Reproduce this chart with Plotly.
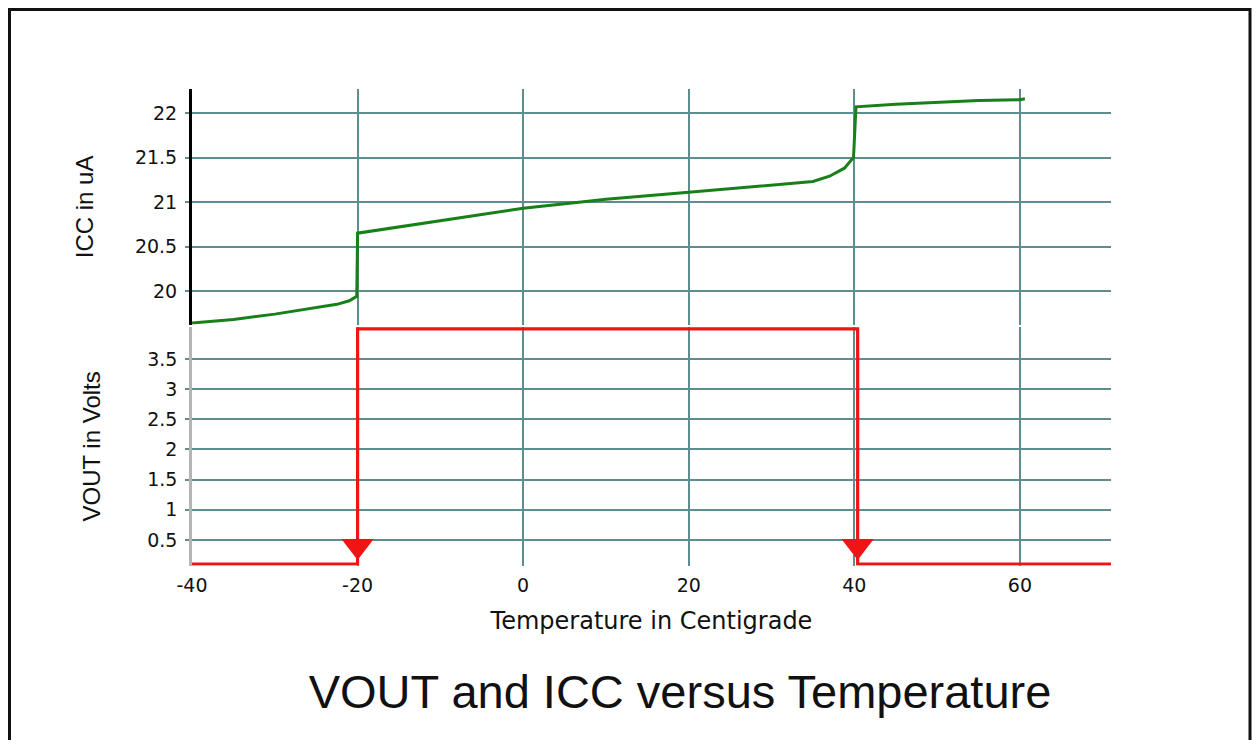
import plotly.graph_objects as go

# ---- data ----
temp_icc = [-40, -35, -30, -25, -22.5, -21, -20.1, -20, -15, -10, -5, 0, 7, 10, 20,
            30, 33, 35, 37, 38.8, 39.9, 40.2, 45, 50, 55, 60, 60.6]
icc_ua = [19.64, 19.68, 19.74, 19.81, 19.85, 19.89, 19.94, 20.65, 20.72, 20.79, 20.86,
          20.93, 21.0, 21.03, 21.11, 21.19, 21.21, 21.23, 21.29, 21.38, 21.50, 22.07,
          22.10, 22.12, 22.14, 22.15, 22.16]

temp_vout = [-40, -20, -20, 40.4, 40.4, 71]
vout_v = [0.1, 0.1, 4.0, 4.0, 0.1, 0.1]

arrow_temp = [-20, 40.4]
arrow_vout = [0.40, 0.40]

x_ticks = [-40, -20, 0, 20, 40, 60]
x_tick_text = ["-40", "-20", "0", "20", "40", "60"]
icc_ticks = [20, 20.5, 21, 21.5, 22]
icc_tick_text = ["20", "20.5", "21", "21.5", "22"]
vout_ticks = [0.5, 1, 1.5, 2, 2.5, 3, 3.5]
vout_tick_text = ["0.5", "1", "1.5", "2", "2.5", "3", "3.5"]

# ---- styles / geometry (page has an 8px body margin on every side) ----
OFF = 8
W, H = 1260 - 2 * OFF, 748 - 2 * OFF


def px(x):
    return (x - OFF) / W


def py(y):
    return 1 - (y - OFF) / H


GRID = "#5f8d8f"
TICKFONT = dict(family="DejaVu Sans", size=19, color="#111111")

fig = go.Figure()
fig.add_trace(go.Scatter(x=temp_icc, y=icc_ua, mode="lines", xaxis="x", yaxis="y",
                         line=dict(color="#188018", width=3), showlegend=False))
fig.add_trace(go.Scatter(x=temp_vout, y=vout_v, mode="lines", xaxis="x2", yaxis="y2",
                         line=dict(color="#f01414", width=3.2), showlegend=False))
fig.add_trace(go.Scatter(x=arrow_temp, y=arrow_vout, mode="markers", xaxis="x2", yaxis="y2",
                         marker=dict(symbol="triangle-down", size=28, color="#f01414",
                                     line=dict(width=0)),
                         cliponaxis=False, showlegend=False))

xdom = [px(192), px(1111)]
top_dom = [py(324.8), py(89)]
bot_dom = [py(565.8), py(327)]

common_x = dict(range=[-40, 71], domain=xdom, tickvals=x_ticks, ticktext=x_tick_text,
                showgrid=True, gridcolor=GRID, gridwidth=2, zeroline=False,
                showline=False, tickfont=TICKFONT, automargin=False)

fig.update_layout(
    width=W, height=H,
    margin=dict(l=0, r=0, t=0, b=0, autoexpand=False),
    paper_bgcolor="white", plot_bgcolor="white",
    xaxis=dict(common_x, anchor="y", showticklabels=False, ticks=""),
    xaxis2=dict(common_x, anchor="y2", showticklabels=True, ticks="",
                ticklabelstandoff=6,
                title=dict(text="Temperature in Centigrade", standoff=17,
                           font=dict(family="DejaVu Sans", size=24, color="#111111"))),
    yaxis=dict(domain=top_dom, range=[19.62, 22.27], anchor="x", automargin=False,
               tickvals=icc_ticks, ticktext=icc_tick_text,
               showgrid=True, gridcolor=GRID, gridwidth=2, zeroline=False,
               showline=True, linecolor="black", linewidth=3,
               ticks="outside", ticklen=4, tickcolor=GRID, tickwidth=2,
               ticklabelstandoff=4, tickfont=TICKFONT,
               title=dict(text="ICC in uA", standoff=35,
                          font=dict(family="Liberation Sans", size=24, color="#111111"))),
    yaxis2=dict(domain=bot_dom, range=[0.07, 4.03], anchor="x2", automargin=False,
                tickvals=vout_ticks, ticktext=vout_tick_text,
                showgrid=True, gridcolor=GRID, gridwidth=2, zeroline=False,
                showline=True, linecolor="#b4b4b4", linewidth=2.5,
                ticks="outside", ticklen=4, tickcolor=GRID, tickwidth=2,
                ticklabelstandoff=4, tickfont=TICKFONT,
                title=dict(text="VOUT in Volts", standoff=40,
                           font=dict(family="Liberation Sans", size=24, color="#111111"))),
    title=dict(text="VOUT and ICC versus Temperature", x=px(680), xanchor="center",
               y=py(692), yanchor="middle", automargin=False,
               font=dict(family="Liberation Sans", size=47, color="#111111")),
    shapes=[dict(type="rect", xref="paper", yref="paper",
                 x0=px(9.5), x1=px(1250), y0=-0.05, y1=py(9.5),
                 line=dict(color="#111111", width=3), fillcolor="rgba(0,0,0,0)")],
)

fig.write_html("out.html")
